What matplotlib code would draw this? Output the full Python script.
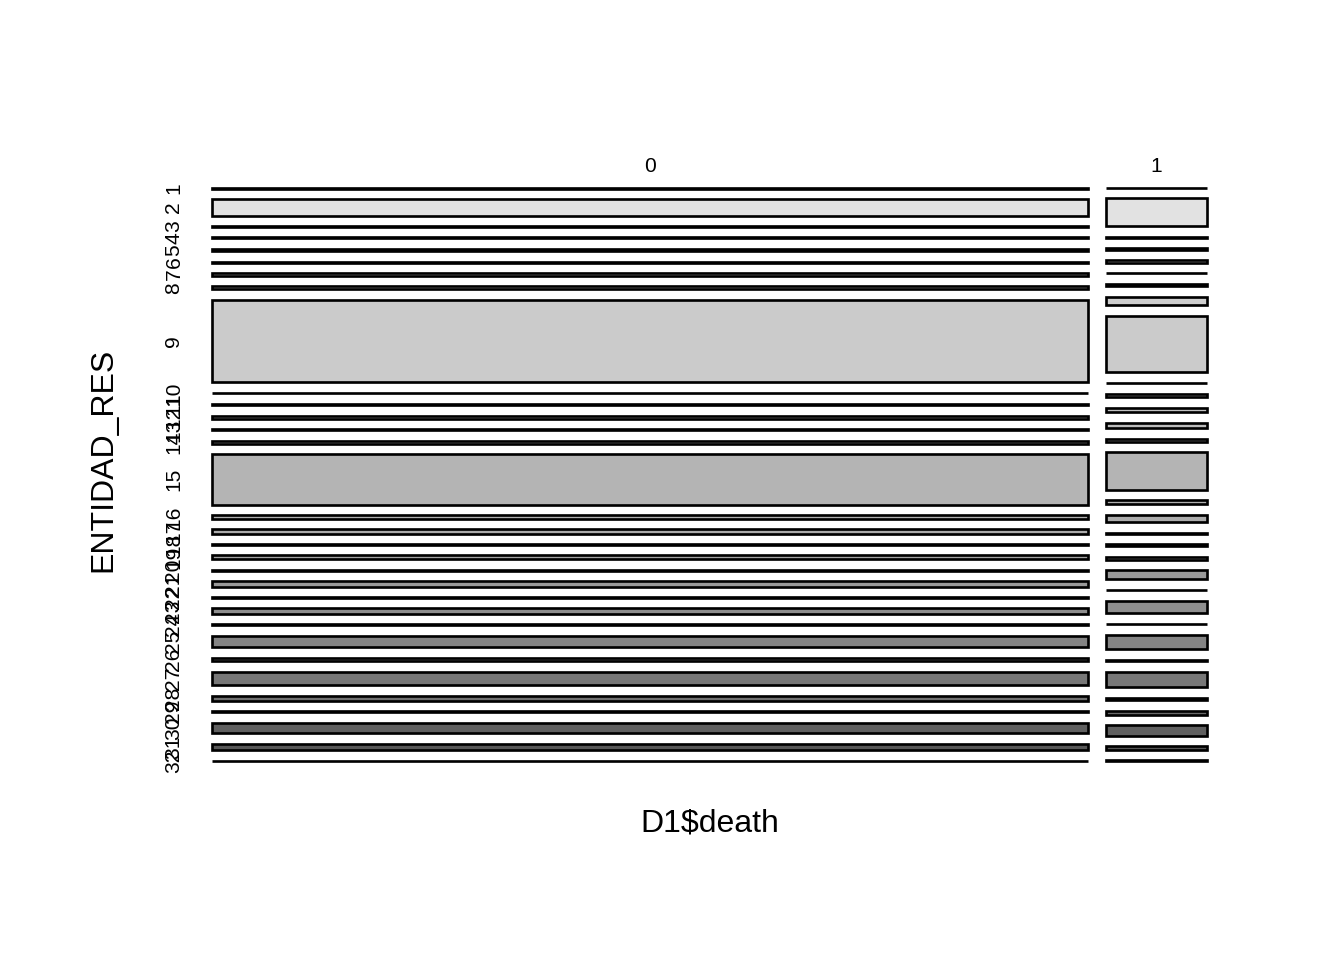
import matplotlib
matplotlib.use('Agg')
import matplotlib.pyplot as plt
from matplotlib.patches import Rectangle
import numpy as np

plt.rcParams['font.family'] = ['Liberation Sans', 'DejaVu Sans']

# 数据：ENTIDAD_RES (1..32) 按 D1$death 分组的计数（从图中估计）
entidad = [str(i) for i in range(1, 33)]
death_levels = ['0', '1']
alive = [110, 1550, 50, 80, 250, 50, 250, 250, 7800, 30, 150, 250, 110, 250, 4750, 320,
         420, 50, 350, 90, 510, 50, 490, 80, 1090, 320, 1290, 450, 80, 990, 590, 30]
dead = [3, 304, 9, 16, 23, 3, 23, 92, 612, 5, 36, 50, 60, 32, 405, 44,
        81, 8, 19, 33, 99, 3, 133, 5, 158, 16, 164, 26, 44, 115, 36, 8]

table = np.array([alive, dead], dtype=float)

# R gray.colors(32) 反序（浅 -> 深）
def gray_colors(n, start=0.3, end=0.9, gamma=2.2):
    v = np.linspace(start ** gamma, end ** gamma, n) ** (1 / gamma)
    return [str(round(x, 4)) for x in v]

colors = gray_colors(len(entidad))[::-1]

fig = plt.figure(figsize=(7, 5), dpi=192)
ax = fig.add_axes([212 / 1344, 1 - 761 / 960, 995 / 1344, 573.5 / 960])
ax.set_xlim(0, 1)
ax.set_ylim(1, 0)
ax.axis('off')

off_x = 18 / 995
off_y = 10.6 / 573.5
ncat = len(entidad)

col_tot = table.sum(axis=1)
col_w = (1 - off_x) * col_tot / col_tot.sum()

x = 0
y_centers_first = []
for j, lev in enumerate(death_levels):
    shares = table[j] / table[j].sum()
    heights = (1 - off_y * (ncat - 1)) * shares
    y = 0
    for i in range(ncat):
        ax.add_patch(Rectangle((x, y), col_w[j], heights[i], facecolor=colors[i],
                               edgecolor='black', linewidth=1.0, clip_on=False))
        if j == 0:
            y_centers_first.append(y + heights[i] / 2)
        y += heights[i] + off_y
    ax.text(x + col_w[j] / 2, -(187.5 - 167) / 573.5, lev, ha='center', va='center',
            fontsize=7.9)
    x += col_w[j] + off_x

# y 轴刻度标签（竖排）
x_lab = (174 - 212) / 995
for yc, lab in zip(y_centers_first, entidad):
    ax.text(x_lab, yc, lab, rotation=90, ha='center', va='center', fontsize=7.9)

fig.text(709.5 / 1344, 1 - 823 / 960, 'D1$death', ha='center', va='center', fontsize=12)
fig.text(103 / 1344, 1 - 460 / 960, 'ENTIDAD_RES', ha='center', va='center',
         rotation=90, fontsize=12)

fig.savefig('out.png', dpi=192, facecolor='white')
